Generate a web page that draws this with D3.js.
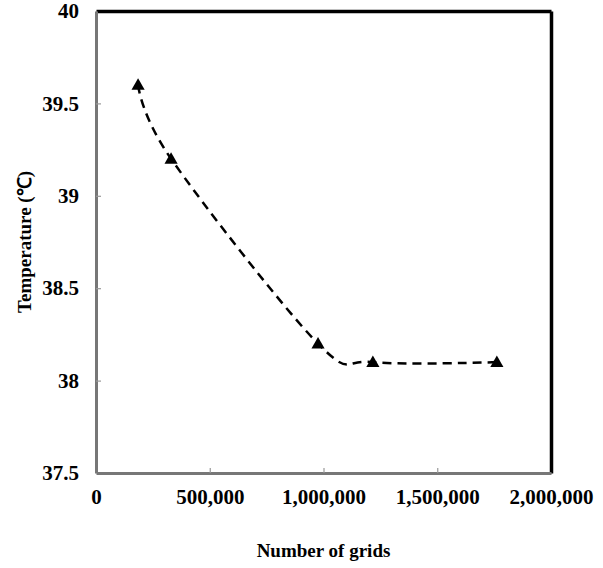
<!DOCTYPE html>
<html>
<head>
<meta charset="utf-8">
<script src="https://cdn.jsdelivr.net/npm/d3@7"></script>
<style>
  body { margin: 0; background: #fff; }
  text { font-family: "Liberation Serif", "Times New Roman", serif; font-weight: bold; }
</style>
</head>
<body>
<svg id="drawing_region"></svg>
<script>
// values
const grids = [185000, 330000, 976000, 1217000, 1762000];
const temps = [39.6, 39.2, 38.2, 38.1, 38.1];
const xTicks = [0, 500000, 1000000, 1500000, 2000000];
const yTicks = [37.5, 38, 38.5, 39, 39.5, 40];

const data = grids.map((g, i) => ({ x: g, y: temps[i] }));

const config = {
    width: 603,
    height: 568,
    margin: { top: 11, right: 52, bottom: 95, left: 96 }
};

const svg = d3.select('#drawing_region')
    .attr('width', config.width)
    .attr('height', config.height);

const inner_width = config.width - config.margin.left - config.margin.right;
const inner_height = config.height - config.margin.top - config.margin.bottom;

const chart = svg.append('g')
    .attr('transform', `translate(${config.margin.left}, ${config.margin.top})`);

const xscale = d3.scaleLinear().domain([0, 2000000]).range([0, inner_width]);
const yscale = d3.scaleLinear().domain([37.5, 40]).range([inner_height, 0]);

// frame top/right in black
chart.append('g')
    .call(d3.axisTop(xscale).tickValues([]).tickSizeOuter(0))
    .call(g => g.select('.domain').attr('stroke', '#000').attr('stroke-width', 3.5));
chart.append('g')
    .attr('transform', `translate(${inner_width}, 0)`)
    .call(d3.axisRight(yscale).tickValues([]).tickSizeOuter(0))
    .call(g => g.select('.domain').attr('stroke', '#000').attr('stroke-width', 3.5));

// x axis
const xaxis = d3.axisBottom(xscale)
    .tickValues(xTicks)
    .tickSizeInner(-5)
    .tickSizeOuter(0)
    .tickPadding(16)
    .tickFormat(d3.format(','));
chart.append('g')
    .attr('transform', `translate(0, ${inner_height})`)
    .call(xaxis)
    .call(g => g.select('.domain').attr('stroke', '#777').attr('stroke-width', 3))
    .call(g => g.selectAll('.tick line').attr('stroke', '#999').attr('stroke-width', 1.2)
        .filter(d => d === 0 || d === 2000000).remove())
    .call(g => g.selectAll('.tick text').attr('fill', '#000')
        .style('font-size', '21px').attr('dy', '0.7em'));

// y axis
const yaxis = d3.axisLeft(yscale)
    .tickValues(yTicks)
    .tickSizeInner(-5)
    .tickSizeOuter(0)
    .tickPadding(17)
    .tickFormat(d => d);
chart.append('g')
    .call(yaxis)
    .call(g => g.select('.domain').attr('stroke', '#777').attr('stroke-width', 3))
    .call(g => g.selectAll('.tick line').attr('stroke', '#999').attr('stroke-width', 1.2)
        .filter(d => d === 37.5 || d === 40).remove())
    .call(g => g.selectAll('.tick text').attr('fill', '#000')
        .style('font-size', '21px'));

// smoothed dashed line
const line = d3.line()
    .x(d => xscale(d.x))
    .y(d => yscale(d.y))
    .curve(d3.curveCardinal.tension(0));

chart.append('path')
    .datum(data)
    .attr('d', line)
    .attr('fill', 'none')
    .attr('stroke', '#000')
    .attr('stroke-width', 2.5)
    .attr('stroke-dasharray', '9,6');

chart.selectAll('.marker')
    .data(data)
    .enter()
    .append('path')
    .attr('class', 'marker')
    .attr('d', d3.symbol().type(d3.symbolTriangle).size(75))
    .attr('transform', d => `translate(${xscale(d.x)}, ${yscale(d.y) + 1})`)
    .attr('fill', '#000');

// axis titles
svg.append('text')
    .attr('x', config.margin.left + inner_width / 2)
    .attr('y', 557)
    .attr('text-anchor', 'middle')
    .style('font-size', '19px')
    .text('Number of grids');

svg.append('text')
    .attr('transform', `translate(31, ${config.margin.top + inner_height / 2}) rotate(-90)`)
    .attr('text-anchor', 'middle')
    .style('font-size', '19px')
    .text('Temperature (℃)');
</script>
</body>
</html>
